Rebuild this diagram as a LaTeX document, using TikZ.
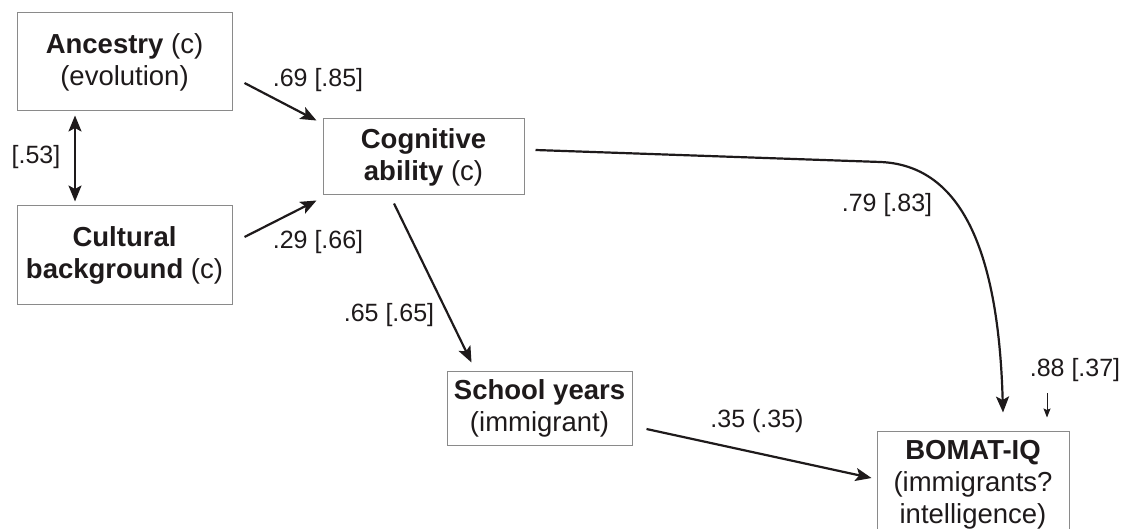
\documentclass[tikz,border=0pt]{standalone}
\usepackage{fontspec}
\setmainfont{Liberation Sans}
\usetikzlibrary{arrows.meta,calc}
\definecolor{txt}{HTML}{1E1A1B}
\definecolor{boxgray}{HTML}{8A8A8A}
\begin{document}
\begin{tikzpicture}[x=1pt,y=-1pt,
  box/.style={draw=boxgray, line width=1pt, align=center, inner sep=0pt, text=txt,
              font=\fontsize{27.5}{32}\selectfont},
  lbl/.style={inner sep=0pt, text=txt, font=\fontsize{25}{30}\selectfont},
  arr/.style={line width=2.2pt, draw=txt, -{Stealth[length=16pt,width=13pt,inset=3.5pt]}},
  darr/.style={line width=2.2pt, draw=txt, {Stealth[length=16pt,width=13pt,inset=3.5pt]}-{Stealth[length=16pt,width=13pt,inset=3.5pt]}},
  thinarr/.style={line width=1pt, draw=txt, -{Stealth[length=9pt,width=7pt,inset=1.5pt]}}
]
\useasboundingbox (0,0) rectangle (1123,529);
\fill[white] (0,0) rectangle (1123,529);
\clip (0,0) rectangle (1123,529);

% nodes
\node[box, minimum width=215pt, minimum height=98pt] (anc) at (124.5,62) {\textbf{Ancestry} (c)\\(evolution)};
\node[box, minimum width=215pt, minimum height=98pt] (cul) at (124.5,255) {\textbf{Cultural}\\\textbf{background} (c)};
\node[box, minimum width=201pt, minimum height=76pt] (cog) at (423.5,157) {\textbf{Cognitive}\\\textbf{ability} (c)};
\node[box, minimum width=185pt, minimum height=74pt] (sch) at (539.5,408) {\textbf{School years}\\(immigrant)};
\node[box, minimum width=192pt, minimum height=108pt] (bom) at (973,485) {\textbf{BOMAT-IQ}\\(immigrants?\\intelligence)};

% labels
\node[lbl] (l1) at (36,157) {[.53]};
\node[lbl] (l2) at (318,80) {.69 [.85]};
\node[lbl] (l3) at (318,242) {.29 [.66]};
\node[lbl] (l4) at (389,315) {.65 [.65]};
\node[lbl] (l5) at (887,205) {.79 [.83]};
\node[lbl] (l6) at (757,421) {.35 (.35)};
\node[lbl] (l7) at (1075,370) {.88 [.37]};

% connectors
\draw[darr] ([xshift=-49.5pt,yshift=-4pt]anc.south) -- ([xshift=-49.5pt,yshift=4pt]cul.north);
\draw[arr] ([xshift=12pt,yshift=-21pt]anc.east) -- ([xshift=-6pt,yshift=-2pt]cog.north west);
\draw[arr] ([xshift=12pt,yshift=18pt]cul.east) -- ([xshift=-6pt,yshift=-5pt]cog.south west);
\draw[arr] ([xshift=-29.5pt,yshift=-8pt]cog.south) -- ([xshift=25pt,yshift=8pt]sch.north west);
\draw[arr] ([xshift=14pt,yshift=-21pt]sch.east) -- ([xshift=-5pt,yshift=7pt]bom.west);
\draw[arr] ([xshift=11pt,yshift=7pt]cog.east) -- ++(345,12)
  .. controls +(70,3) and +(-5,-183) .. ([xshift=30pt,yshift=18pt]bom.north);
\coordinate (e0) at (1047,393);
\draw[thinarr] (e0) -- ([xshift=74pt,yshift=13pt]bom.north);
\end{tikzpicture}
\end{document}
